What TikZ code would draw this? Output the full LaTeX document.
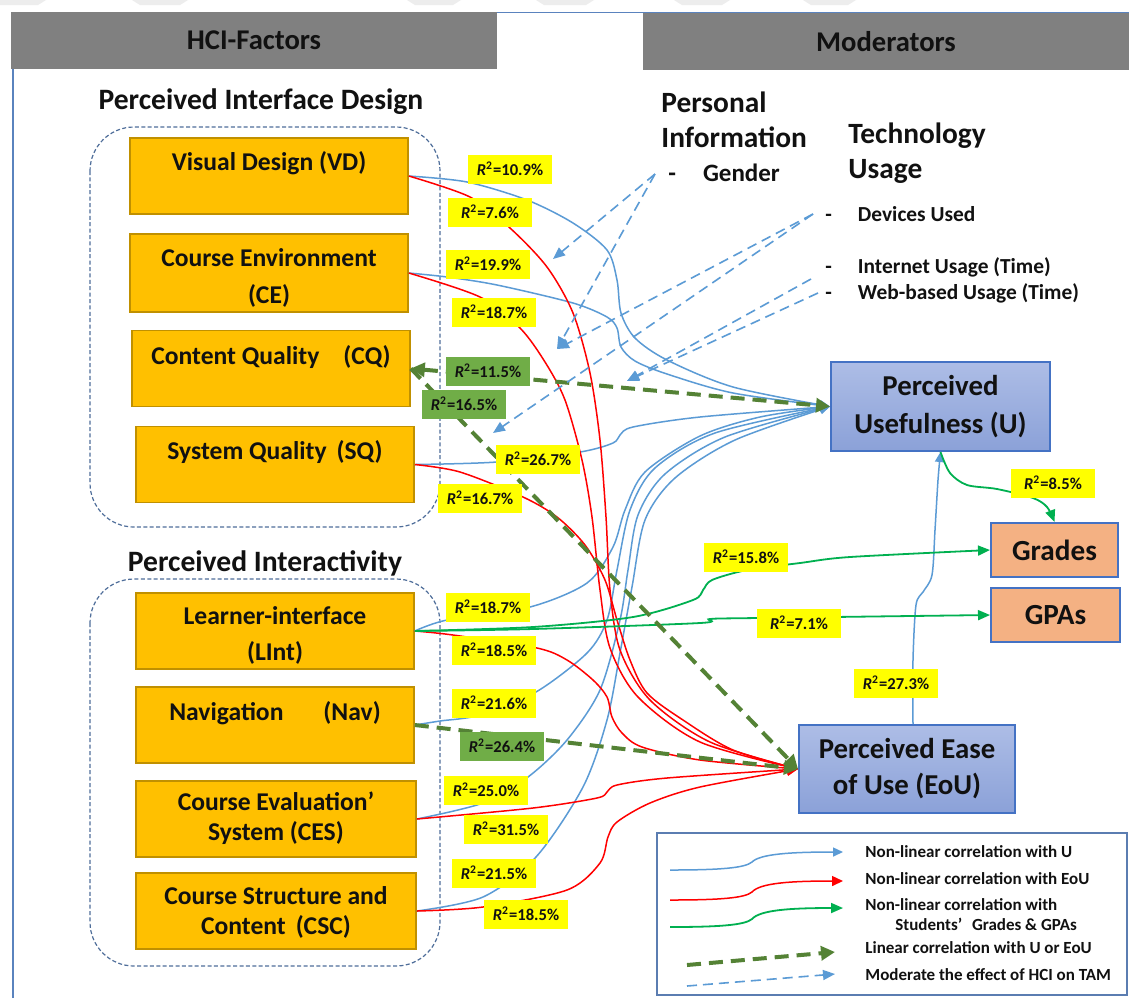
\documentclass[tikz,border=0pt]{standalone}
\usepackage{fontspec}
\setmainfont{Carlito}
\usetikzlibrary{arrows.meta,calc}
\definecolor{lblue}{HTML}{5B9BD5}
\definecolor{rred}{HTML}{FF0000}
\definecolor{gsol}{HTML}{00B050}
\definecolor{gdsh}{HTML}{548235}
\definecolor{hcifill}{HTML}{FFC000}
\definecolor{hcibd}{HTML}{C09000}
\definecolor{grpbd}{HTML}{4F6E9A}
\definecolor{utop}{HTML}{ADBDE6}
\definecolor{ubot}{HTML}{8BA1D8}
\definecolor{ubd}{HTML}{4472C4}
\definecolor{gfill}{HTML}{F4B183}
\definecolor{labg}{HTML}{70AD47}
\definecolor{labY}{HTML}{FFFF00}
\definecolor{tabgray}{HTML}{808080}
\definecolor{framebl}{HTML}{5A83BE}
\definecolor{legbd}{HTML}{5B7DB1}
\definecolor{txt}{HTML}{111111}
\definecolor{wm}{HTML}{EDEDED}
\newcommand\Rsq[1]{\textit{R}\textsuperscript{2}=#1\%}
\begin{document}
\begin{tikzpicture}[x=0.5pt,y=-0.5pt,
  lineU/.style={draw=lblue, line width=0.75pt, -{Triangle[length=5pt,width=4.5pt]}},
  lineE/.style={draw=rred, line width=0.75pt, -{Triangle[length=5.5pt,width=5pt]}},
  lineG/.style={draw=gsol, line width=0.9pt, -{Triangle[length=6pt,width=5pt]}},
  lineLin/.style={draw=gdsh, line width=2pt, dash pattern=on 7pt off 4pt, -{Triangle[length=7pt,width=7pt]}},
  lineMod/.style={draw=lblue, line width=0.8pt, dash pattern=on 5pt off 3pt, -{Triangle[length=6pt,width=5pt]}},
  hcibox/.style={draw=hcibd, fill=hcifill, line width=0.8pt, minimum width=139pt, minimum height=38pt, inner sep=0pt},
  btxt/.style={font=\bfseries\fontsize{12.8}{18}\selectfont, text=txt, inner sep=0pt, align=center},
  grp/.style={draw=grpbd, line width=0.6pt, dash pattern=on 2pt off 1.2pt, rounded corners=22pt},
  tab/.style={fill=tabgray, minimum width=243pt, minimum height=28.5pt, inner sep=0pt, font=\bfseries\fontsize{14.3}{17}\selectfont, text=txt},
  head/.style={font=\bfseries\fontsize{14.8}{17.6}\selectfont, text=txt, inner sep=0pt},
  mhead/.style={font=\bfseries\fontsize{14.7}{17.6}\selectfont, text=txt, inner sep=0pt, align=left, anchor=west},
  item/.style={font=\bfseries\fontsize{10.7}{13}\selectfont, text=txt, inner sep=0pt, anchor=west},
  ubox/.style={draw=ubd, line width=1pt, top color=utop, bottom color=ubot, inner sep=0pt, align=center, text=txt, font=\bfseries\fontsize{14.4}{19}\selectfont},
  gbox/.style={draw=ubd, fill=gfill, line width=1pt, inner sep=0pt, text=txt, font=\bfseries\fontsize{14.6}{18}\selectfont},
  rlab/.style={fill=labY, minimum width=42pt, minimum height=14.5pt, inner sep=0pt, font=\bfseries\fontsize{8.3}{9}\selectfont, text=txt},
  glab/.style={rlab, fill=labg},
  legtxt/.style={font=\bfseries\fontsize{8.5}{10}\selectfont, text=txt, inner sep=0pt, anchor=west, align=left}
]
\useasboundingbox (0,0) rectangle (1129,998);
\fill[white] (0,0) rectangle (1129,998);

% faint top strip
\foreach \a/\b in {-10/46,132/188,407/461,536/594,674/730,803/856}
  \fill[wm] (\a,0) -- (\b,0) -- (\b-8,5) -- (\a+8,5) -- cycle;

% frame and tabs
\draw[draw=framebl, line width=0.8pt] (13,998) -- (13,12.5) -- (1129,12.5);
\node[tab] (hci) at (254,40.5) {HCI-Factors};
\node[tab] (mod) at (886,41.5) {Moderators};

% groups
\node[head] (pid) at (261,102) {Perceived Interface Design};
\node[head] (pia) at (265,563) {Perceived Interactivity};
\draw[grp] (90,127) rectangle (440,527);
\draw[grp] (90,579) rectangle (440,966);

% HCI boxes
\node[hcibox] (vd) at (269,176) {};
\node[hcibox, minimum height=39pt] (ce) at (269,273) {};
\node[hcibox] (cq) at (271,368.5) {};
\node[hcibox] (sq) at (275,464.5) {};
\node[hcibox] (lint) at (275,631) {};
\node[hcibox] (nav) at (275,725) {};
\node[hcibox, minimum width=140pt] (ces) at (276,819) {};
\node[hcibox, minimum width=140pt] (csc) at (276,911) {};

\node[btxt] (vdt) at (269,163) {Visual Design (VD)};
\node[btxt, font=\bfseries\fontsize{12.8}{18.5}\selectfont] (cet) at (269,278) {Course Environment\\(CE)};
\node[btxt] (cqt) at (271,357) {Content Quality\hspace{12pt}(CQ)};
\node[btxt] (sqt) at (275,452) {System Quality\hspace{5pt}(SQ)};
\node[btxt] (lintt) at (275,635) {Learner-interface\\(LInt)};
\node[btxt] (navt) at (275,713) {Navigation\hspace{20pt}(Nav)};
\node[btxt, font=\bfseries\fontsize{12.8}{15}\selectfont] (cest) at (276,818) {Course Evaluation’\\System (CES)};
\node[btxt, font=\bfseries\fontsize{12.8}{15}\selectfont] (csct) at (276,912) {Course Structure and\\Content\hspace{5pt}(CSC)};

% TAM boxes
\node[ubox, minimum width=109.5pt, minimum height=44.5pt] (u) at (940.5,406.5) {Perceived\\Usefulness (U)};
\node[ubox, minimum width=108pt, minimum height=44pt, font=\bfseries\fontsize{14.4}{18}\selectfont] (eou) at (907,769) {Perceived Ease\\of Use (EoU)};
\node[gbox, minimum width=63.5pt, minimum height=27pt] (grades) at (1054.5,550) {Grades};
\node[gbox, minimum width=64.5pt, minimum height=27pt] (gpas) at (1055.5,615) {GPAs};

% moderators
\node[mhead] (pinf) at (661,119.5) {Personal\\Information};
\node[mhead] (tech) at (848,153) {Technology\\Usage};
\node[anchor=west, inner sep=0pt, font=\bfseries\fontsize{12.5}{15}\selectfont, text=txt] (gen) at (668,173) {-\hspace{13.5pt}Gender};
\node[item] (dev) at (825,214) {-\hspace{13pt}Devices Used};
\node[item] (inet) at (825,267) {-\hspace{13pt}Internet Usage (Time)};
\node[item] (web) at (825,293) {-\hspace{13pt}Web-based Usage (Time)};

\coordinate (gst) at (655,174);
\coordinate (dst) at (813,214);
\coordinate (ist) at (811,279);
\coordinate (wst) at (818,293);
\coordinate (me1) at (553,259);
\coordinate (me2) at (557,349);
\coordinate (me3) at (493,433);
\coordinate (me4) at (627,381);
\coordinate (eoutop) at ($(eou.north)+(6,0)$);

% blue: HCI -> U
\draw[lineU] plot[smooth,tension=0.5] coordinates {(vd.east) (467,182) (527,200) (573,223) (607,250) (617,280) (621,313) (635,338) (667,360) (733,387) (u.west)};
\draw[lineU] plot[smooth,tension=0.5] coordinates {(ce.east) (447,277) (497,285) (573,303) (607,317) (617,328) (621,347) (635,361) (667,374) (733,393) (u.west)};
\draw[lineU] plot[smooth,tension=0.5] coordinates {(sq.east) (497,462) (580,452) (613,443) (620,435) (633,427) (700,417) (u.west)};
\draw[lineU] plot[smooth,tension=0.5] coordinates {(lint.east) (447,620) (530,607) (587,583) (613,547) (625,510) (645,472) (700,436) (760,417) (u.west)};
\draw[lineU] plot[smooth,tension=0.5] coordinates {(nav.east) (440,721) (480,715) (536,692) (587,653) (607,620) (617,570) (630,510) (655,468) (715,433) (u.west)};
\draw[lineU] plot[smooth,tension=0.5] coordinates {(ces.east) (483,803) (528,777) (567,740) (600,690) (620,620) (628,570) (638,515) (665,474) (725,437) (u.west)};
\draw[lineU] plot[smooth,tension=0.5] coordinates {(csc.east) (483,897) (536,857) (583,787) (607,720) (620,653) (632,587) (645,520) (675,478) (735,440) (u.west)};
\draw[lineU] plot[smooth,tension=0.5] coordinates {(eoutop) (913,660) (916,605) (923,592) (932,575) (935,530) (938,480) (u.south)};

% red: HCI -> EoU
\draw[lineE] plot[smooth,tension=0.5] coordinates {(vd.east) (470,197) (510,228) (547,267) (573,313) (590,373) (600,440) (606,517) (610,590) (620,650) (650,700) (710,742) (eou.west)};
\draw[lineE] plot[smooth,tension=0.5] coordinates {(ce.east) (480,297) (520,328) (545,362) (565,400) (582,460) (592,517) (600,590) (610,648) (638,697) (700,742) (eou.west)};
\draw[lineE] plot[smooth,tension=0.5] coordinates {(sq.east) (460,472) (523,497) (557,517) (585,545) (605,580) (617,620) (630,660) (647,693) (683,720) (733,750) (eou.west)};
\draw[lineE] plot[smooth,tension=0.5] coordinates {(lint.east) (453,635) (537,648) (567,660) (593,680) (607,697) (612,717) (622,733) (642,747) (700,760) (eou.west)};
\draw[lineE] plot[smooth,tension=0.5] coordinates {(ces.east) (533,808) (597,798) (607,792) (617,785) (667,778) (eou.west)};
\draw[lineE] plot[smooth,tension=0.5] coordinates {(csc.east) (483,907) (567,890) (600,863) (608,837) (617,822) (650,803) (700,787) (eou.west)};

% green solid
\draw[lineG] plot[smooth,tension=0.5] coordinates {(lint.east) (533,627) (633,617) (693,600) (703,590) (712,580) (747,570) (800,563) (850,557) (grades.west)};
\draw[lineG] plot[smooth,tension=0.5] coordinates {(lint.east) (533,629) (700,623) (710,619) (757,618) (gpas.west)};
\draw[lineG] plot[smooth,tension=0.5] coordinates {(u.south) (950,473) (967,485) (997,489) (1033,498) (1047,507) (grades.north)};

% green dashed (linear)
\draw[lineLin, {Triangle[length=7pt,width=7pt]}-{Triangle[length=7pt,width=7pt]}] (cq.east) -- (u.west);
\draw[lineLin] (cq.east) -- (eou.west);
\draw[lineLin] (nav.east) -- (eou.west);

% moderator dashed
\draw[lineMod] (gst) -- (me1);
\draw[lineMod] (gst) -- (me2);
\draw[lineMod] (dst) -- (me2);
\draw[lineMod] (dst) -- (me3);
\draw[lineMod] (ist) -- (me4);
\draw[lineMod] (wst) -- (me4);

% labels
\node[rlab] (l1) at (510,169) {\Rsq{10.9}};
\node[rlab] (l2) at (490,212) {\Rsq{7.6}};
\node[rlab] (l3) at (488,264) {\Rsq{19.9}};
\node[rlab] (l4) at (494,312) {\Rsq{18.7}};
\node[glab] (l5) at (488,371) {\Rsq{11.5}};
\node[glab] (l6) at (464,404) {\Rsq{16.5}};
\node[rlab] (l7) at (538,459) {\Rsq{26.7}};
\node[rlab] (l8) at (480,498) {\Rsq{16.7}};
\node[rlab] (l9) at (488,607) {\Rsq{18.7}};
\node[rlab] (l10) at (494,650) {\Rsq{18.5}};
\node[rlab] (l11) at (494,703) {\Rsq{21.6}};
\node[glab] (l12) at (502,746) {\Rsq{26.4}};
\node[rlab] (l13) at (486,790) {\Rsq{25.0}};
\node[rlab] (l14) at (506,829) {\Rsq{31.5}};
\node[rlab] (l15) at (494,873) {\Rsq{21.5}};
\node[rlab] (l16) at (526,914) {\Rsq{18.5}};
\node[rlab] (l17) at (746,557) {\Rsq{15.8}};
\node[rlab] (l18) at (799,623) {\Rsq{7.1}};
\node[rlab] (l19) at (1053,483) {\Rsq{8.5}};
\node[rlab] (l20) at (896,683) {\Rsq{27.3}};

% legend
\draw[draw=legbd, line width=0.8pt] (657,833) rectangle (1127,995);
\coordinate (la1) at (670,870); \coordinate (lb1) at (843,852);
\coordinate (la2) at (670,900); \coordinate (lb2) at (843,881);
\coordinate (la3) at (670,927); \coordinate (lb3) at (843,908);
\coordinate (la4) at (687,965); \coordinate (lb4) at (835,952);
\coordinate (la5) at (687,986); \coordinate (lb5) at (835,974);
\draw[lineU] (la1) .. controls (720,870) and (745,868) .. (752,862) .. controls (760,854) and (790,852) .. (lb1);
\draw[lineE] (la2) .. controls (720,900) and (745,898) .. (752,892) .. controls (760,883) and (790,881) .. (lb2);
\draw[lineG] (la3) .. controls (720,927) and (745,925) .. (752,919) .. controls (760,910) and (790,908) .. (lb3);
\draw[lineLin] (la4) -- (lb4);
\draw[lineMod] (la5) -- (lb5);
\node[legtxt] (lt1) at (865,852) {Non-linear correlation with U};
\node[legtxt] (lt2) at (865,879) {Non-linear correlation with EoU};
\node[legtxt] (lt3) at (865,915) {Non-linear correlation with\\\hspace{15pt}Students’\hspace{3pt} Grades \& GPAs};
\node[legtxt] (lt4) at (865,948) {Linear correlation with U or EoU};
\node[legtxt] (lt5) at (865,975) {Moderate the effect of HCI on TAM};
\end{tikzpicture}
\end{document}
